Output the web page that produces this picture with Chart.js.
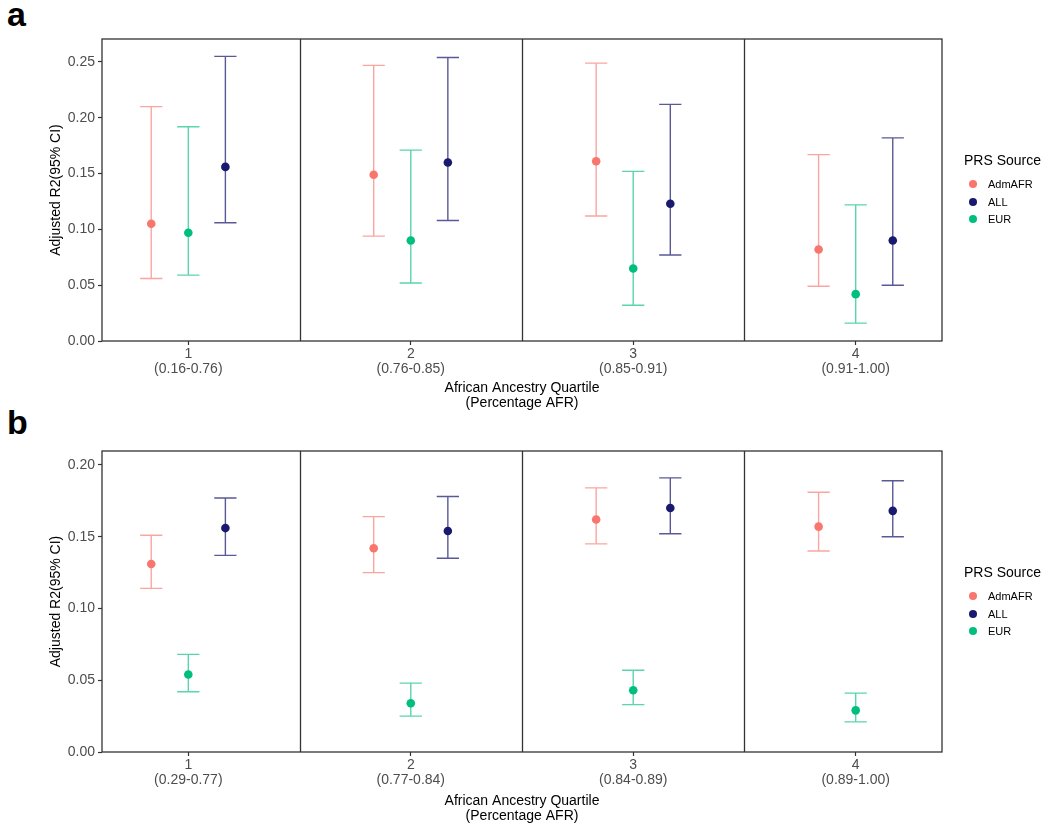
<!DOCTYPE html>
<html>
<head>
<meta charset="utf-8">
<script src="https://cdn.jsdelivr.net/npm/chart.js@4.4.1/dist/chart.umd.min.js"></script>
<style>
    body { margin: 0; width: 1050px; height: 832px; background: #fff; position: relative; overflow: hidden;
           font-family: "Liberation Sans", Arial, sans-serif; }
    .panel { position: absolute; left: 0; }
    .tag { position: absolute; left: 7px; font-size: 34px; line-height: 34px; font-weight: bold; color: #000; }
    .legend { position: absolute; left: 964px; width: 86px; }
    .legend-title { position: absolute; left: 0; font-size: 14px; line-height: 14px; white-space: nowrap; color: #000; }
    .legend-item { position: absolute; left: 5px; height: 18px; display: flex; align-items: center;
                   font-size: 11px; white-space: nowrap; color: #000; }
    .dot { width: 8px; height: 8px; border-radius: 50%; margin-right: 11px; }
</style>
</head>
<body>
<div class="tag" style="top:-3px">a</div>
<div class="tag" style="top:405px">b</div>

<div class="panel" style="top:0"><canvas id="chartA" width="1050" height="416"></canvas></div>
<div class="panel" style="top:410px"><canvas id="chartB" width="1050" height="422"></canvas></div>

<div class="legend" id="legendA" style="top:153px"></div>
<div class="legend" id="legendB" style="top:565px"></div>

<script>
// Categories and series
const quartiles = ['1', '2', '3', '4'];
const rangesA = ['(0.16-0.76)', '(0.76-0.85)', '(0.85-0.91)', '(0.91-1.00)'];
const rangesB = ['(0.29-0.77)', '(0.77-0.84)', '(0.84-0.89)', '(0.89-1.00)'];
const seriesNames = ['AdmAFR', 'ALL', 'EUR'];
const separators = [1.5, 2.5, 3.5];

// Panel a: adjusted R2 with 95% CI
const admA = [0.105, 0.149, 0.161, 0.082];
const admALo = [0.056, 0.094, 0.112, 0.049];
const admAHi = [0.210, 0.247, 0.249, 0.167];
const allA = [0.156, 0.160, 0.123, 0.090];
const allALo = [0.106, 0.108, 0.077, 0.050];
const allAHi = [0.255, 0.254, 0.212, 0.182];
const eurA = [0.097, 0.090, 0.065, 0.042];
const eurALo = [0.059, 0.052, 0.032, 0.016];
const eurAHi = [0.192, 0.171, 0.152, 0.122];
const yTicksA = [0, 0.05, 0.10, 0.15, 0.20, 0.25];

// Panel b
const admB = [0.131, 0.142, 0.162, 0.157];
const admBLo = [0.114, 0.125, 0.145, 0.140];
const admBHi = [0.151, 0.164, 0.184, 0.181];
const allB = [0.156, 0.154, 0.170, 0.168];
const allBLo = [0.137, 0.135, 0.152, 0.150];
const allBHi = [0.177, 0.178, 0.191, 0.189];
const eurB = [0.054, 0.034, 0.043, 0.029];
const eurBLo = [0.042, 0.025, 0.033, 0.021];
const eurBHi = [0.068, 0.048, 0.057, 0.041];
const yTicksB = [0, 0.05, 0.10, 0.15, 0.20];

// Styles
const FONT = '"Liberation Sans", Arial, sans-serif';
const pointColors = ['#F8766D', '#191970', '#00BF7D'];
const barColors = ['rgba(248,118,109,0.65)', 'rgba(25,25,112,0.72)', 'rgba(0,191,125,0.65)'];
const dodge = [-1 / 6, 1 / 6, 0];   // AdmAFR left, ALL right, EUR centre
const capHalf = 0.05;

// Build one error-bar path (stem + two caps) per category, broken by null points
function errorBarPoints(lo, hi, offset) {
    const pts = [];
    lo.forEach((l, i) => {
        const x = i + 1 + offset;
        const h = hi[i];
        pts.push({ x: x, y: l }, { x: x, y: h }, { x: x, y: null });
        pts.push({ x: x - capHalf, y: h }, { x: x + capHalf, y: h }, { x: x, y: null });
        pts.push({ x: x - capHalf, y: l }, { x: x + capHalf, y: l }, { x: x, y: null });
    });
    return pts;
}

const framePlugin = {
    id: 'frame',
    afterDatasetsDraw(chart) {
        const { ctx, chartArea: a, scales: { x } } = chart;
        ctx.save();
        ctx.strokeStyle = '#333333';
        ctx.lineWidth = 1.3;
        ctx.strokeRect(a.left, a.top, a.right - a.left, a.bottom - a.top);
        separators.forEach(v => {
            const px = Math.round(x.getPixelForValue(v)) + 0.5;
            ctx.beginPath();
            ctx.moveTo(px, a.top);
            ctx.lineTo(px, a.bottom);
            ctx.stroke();
        });
        ctx.restore();
    }
};

function makePanel(canvasId, cfg) {
    const datasets = [];
    seriesNames.forEach((name, s) => {
        datasets.push({
            label: name + ' CI',
            data: errorBarPoints(cfg.lo[s], cfg.hi[s], dodge[s]),
            showLine: true,
            spanGaps: false,
            borderColor: barColors[s],
            borderWidth: 1.4,
            pointRadius: 0,
            order: 2
        });
    });
    seriesNames.forEach((name, s) => {
        datasets.push({
            label: name,
            data: cfg.est[s].map((v, i) => ({ x: i + 1 + dodge[s], y: v })),
            pointRadius: 4.3,
            pointBorderWidth: 0,
            backgroundColor: pointColors[s],
            borderColor: pointColors[s],
            order: 1
        });
    });

    const tickFont = { family: FONT, size: 14, lineHeight: 1.1 };
    const titleFont = { family: FONT, size: 14, lineHeight: 1.1 };

    return new Chart(document.getElementById(canvasId), {
        type: 'scatter',
        data: { datasets },
        plugins: [framePlugin],
        options: {
            responsive: false,
            animation: false,
            devicePixelRatio: 1,
            layout: { padding: { left: 0, top: cfg.padTop, right: 108, bottom: 0 } },
            plugins: { legend: { display: false }, tooltip: { enabled: false } },
            scales: {
                x: {
                    type: 'linear',
                    min: 0.612,
                    max: 4.388,
                    afterBuildTicks: scale => { scale.ticks = quartiles.map((q, i) => ({ value: i + 1 })); },
                    afterFit: scale => { scale.height = cfg.axisHeight; },
                    ticks: {
                        autoSkip: false,
                        maxRotation: 0,
                        padding: 1,
                        color: '#4D4D4D',
                        font: tickFont,
                        callback: (value, index) => [quartiles[index], cfg.ranges[index]]
                    },
                    grid: { display: true, drawOnChartArea: false, drawTicks: true, tickLength: 4, tickColor: '#333333', tickWidth: 1.2 },
                    border: { display: false },
                    title: {
                        display: true,
                        text: ['African Ancestry Quartile', '(Percentage AFR)'],
                        color: '#000',
                        font: titleFont,
                        padding: { top: 0, bottom: cfg.titlePad }
                    }
                },
                y: {
                    min: 0,
                    max: cfg.yMax,
                    afterBuildTicks: scale => { scale.ticks = cfg.yTicks.map(v => ({ value: v })); },
                    afterFit: scale => { scale.width = 102; },
                    ticks: {
                        autoSkip: false,
                        padding: 3,
                        color: '#4D4D4D',
                        font: tickFont,
                        callback: v => Number(v).toFixed(2)
                    },
                    grid: { display: true, drawOnChartArea: false, drawTicks: true, tickLength: 4, tickColor: '#333333', tickWidth: 1.2 },
                    border: { display: false },
                    title: {
                        display: true,
                        text: 'Adjusted R2(95% CI)',
                        color: '#000',
                        font: titleFont,
                        padding: { top: 48, bottom: 0 }
                    }
                }
            }
        }
    });
}

function buildLegend(id) {
    const box = document.getElementById(id);
    const title = document.createElement('div');
    title.className = 'legend-title';
    title.style.top = '0px';
    title.textContent = 'PRS Source';
    box.appendChild(title);
    seriesNames.forEach((name, s) => {
        const item = document.createElement('div');
        item.className = 'legend-item';
        item.style.top = (22 + s * 17.5) + 'px';
        item.innerHTML = `<span class="dot" style="background:${pointColors[s]}"></span><span>${name}</span>`;
        box.appendChild(item);
    });
}

makePanel('chartA', {
    ranges: rangesA,
    est: [admA, allA, eurA],
    lo: [admALo, allALo, eurALo],
    hi: [admAHi, allAHi, eurAHi],
    yMax: 0.2706,
    yTicks: yTicksA,
    padTop: 39,
    axisHeight: 75,
    titlePad: 5
});

makePanel('chartB', {
    ranges: rangesB,
    est: [admB, allB, eurB],
    lo: [admBLo, allBLo, eurBLo],
    hi: [admBHi, allBHi, eurBHi],
    yMax: 0.2097,
    yTicks: yTicksB,
    padTop: 41,
    axisHeight: 80,
    titlePad: 8
});

buildLegend('legendA');
buildLegend('legendB');
</script>
</body>
</html>
